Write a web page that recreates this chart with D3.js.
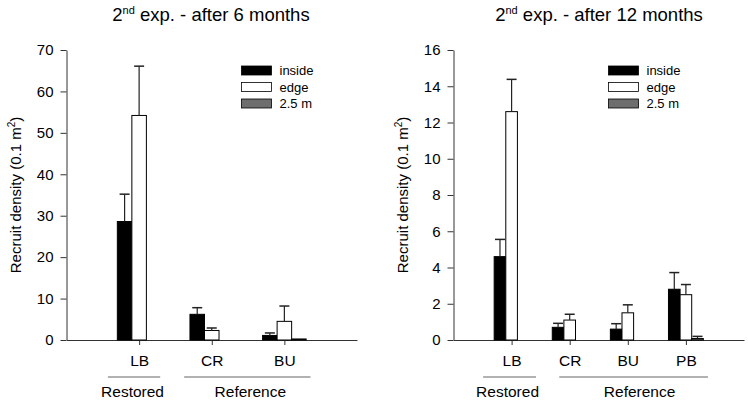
<!DOCTYPE html>
<html><head><meta charset="utf-8">
<script src="https://cdn.jsdelivr.net/npm/d3@7"></script>
<style>body{margin:0;background:#fff}svg{display:block}text{font-family:"Liberation Sans",Arial,sans-serif;fill:#000}</style>
</head><body>
<svg id="c" width="748" height="402"></svg>
<script>
// ---- data ----
const seriesNames = ["inside", "edge", "2.5 m"];
const cats6 = ["LB", "CR", "BU"];
const inside6 = [28.6, 6.2, 1.1];
const inside6Err = [6.6, 1.6, 0.6];
const edge6 = [54.2, 2.3, 4.5];
const edge6Err = [11.9, 0.6, 3.7];
const m25_6 = [0, 0, 0.25];
const m25_6Err = [0, 0, 0];
const ticks6 = [0, 10, 20, 30, 40, 50, 60, 70];

const cats12 = ["LB", "CR", "BU", "PB"];
const inside12 = [4.6, 0.7, 0.6, 2.8];
const inside12Err = [0.95, 0.22, 0.3, 0.92];
const edge12 = [12.6, 1.1, 1.5, 2.5];
const edge12Err = [1.78, 0.32, 0.44, 0.56];
const m25_12 = [0, 0, 0, 0.08];
const m25_12Err = [0, 0, 0, 0.12];
const ticks12 = [0, 2, 4, 6, 8, 10, 12, 14, 16];

const groupLabels = ["Restored", "Reference"];
const groupCats6 = [["LB"], ["CR", "BU"]];
const groupCats12 = [["LB"], ["CR", "BU", "PB"]];

const fills = ["#000000", "#ffffff", "#6e6e6e"];
const svg = d3.select("#c");

function panel(opt) {
  const g = svg.append("g");
  const x = d3.scalePoint().domain(opt.cats).range([opt.x0, opt.x1]).padding(1);
  const y = d3.scaleLinear().domain([0, opt.ymax]).range([340, 50]);
  const w = x.step() * 0.2;

  // title
  const t = g.append("text").attr("x", opt.tx).attr("y", 21).attr("text-anchor", "middle").style("font-size", "18.5px");
  t.append("tspan").text("2");
  t.append("tspan").attr("dy", -7).style("font-size", "11px").text("nd");
  t.append("tspan").attr("dy", 7).text(" exp. - after " + opt.months + " months");

  // y label
  const yl = g.append("text").attr("transform", `translate(${opt.ylx},195) rotate(-90)`).attr("text-anchor", "middle").style("font-size", "15px");
  yl.append("tspan").text("Recruit density (0.1 m");
  yl.append("tspan").attr("dy", -6).style("font-size", "10px").text("2");
  yl.append("tspan").attr("dy", 6).text(")");

  // y axis
  const ya = g.append("g").attr("transform", `translate(${opt.x0},0)`)
    .call(d3.axisLeft(y).tickValues(opt.ticks).tickSize(6).tickPadding(7).tickSizeOuter(0));
  ya.select(".domain").attr("stroke", "#333");
  ya.selectAll(".tick line").attr("stroke", "#333");
  ya.selectAll(".tick text").style("font-size", "15px").style("font-family", '"Liberation Sans",Arial,sans-serif').attr("fill", "#000");

  // x axis
  const xa = g.append("g").attr("transform", `translate(0,340)`)
    .call(d3.axisBottom(x).tickSize(5).tickPadding(10).tickSizeOuter(0));
  xa.select(".domain").attr("stroke", "#333");
  xa.selectAll(".tick line").attr("stroke", "#333");
  xa.selectAll(".tick text").style("font-size", "15.5px").style("font-family", '"Liberation Sans",Arial,sans-serif').attr("fill", "#000").attr("dy", "0.71em");

  // bars
  opt.series.forEach((s, si) => {
    opt.cats.forEach((c, ci) => {
      const v = s.vals[ci];
      if (v <= 0) return;
      const bx = x(c) + (si - 1.5) * w;
      g.append("rect").attr("x", bx).attr("y", y(v)).attr("width", w).attr("height", y(0) - y(v))
        .attr("fill", fills[si]).attr("stroke", "#000").attr("stroke-width", 1);
      const e = s.err[ci];
      if (e > 0) {
        const cx = bx + w / 2;
        g.append("line").attr("x1", cx).attr("x2", cx).attr("y1", y(v)).attr("y2", y(v + e)).attr("stroke", "#222").attr("stroke-width", 1.2);
        g.append("line").attr("x1", cx - 5).attr("x2", cx + 5).attr("y1", y(v + e)).attr("y2", y(v + e)).attr("stroke", "#222").attr("stroke-width", 1.5);
      }
    });
  });

  // group lines and labels (extents in units of category step)
  groupLabels.forEach((lab, gi) => {
    const xs = opt.groupCats[gi].map(c => x(c));
    const ext = opt.groupExt[gi];
    const a = d3.min(xs) - x.step() * ext[0], b = d3.max(xs) + x.step() * ext[1];
    g.append("line").attr("x1", a).attr("x2", b).attr("y1", 377).attr("y2", 377).attr("stroke", "#999").attr("stroke-width", 1.5);
    g.append("text").attr("x", (a + b) / 2 + ext[2]).attr("y", 397).attr("text-anchor", "middle").style("font-size", "15.5px").text(lab);
  });

  // legend
  seriesNames.forEach((n, i) => {
    const ly = 66 + i * 16.5;
    g.append("rect").attr("x", opt.lx).attr("y", ly).attr("width", 30).attr("height", 9)
      .attr("fill", fills[i]).attr("stroke", "#000").attr("stroke-width", 0.8);
    g.append("text").attr("x", opt.lx + 38).attr("y", ly + 9).style("font-size", "13px").text(n);
  });
}

panel({cats: cats6, x0: 66.5, x1: 357, ymax: 70, ticks: ticks6, months: 6, tx: 211, ylx: 21, lx: 241.5,
  groupCats: groupCats6, groupExt: [[0.43, 0.29, -1.5], [0.38, 0.36, 3]],
  series: [{vals: inside6, err: inside6Err}, {vals: edge6, err: edge6Err}, {vals: m25_6, err: m25_6Err}]});
panel({cats: cats12, x0: 453.5, x1: 744, ymax: 16, ticks: ticks12, months: 12, tx: 599, ylx: 408, lx: 608.5,
  groupCats: groupCats12, groupExt: [[0.49, 0.42, -2], [0.18, 0.38, 6]],
  series: [{vals: inside12, err: inside12Err}, {vals: edge12, err: edge12Err}, {vals: m25_12, err: m25_12Err}]});
</script>
</body></html>
